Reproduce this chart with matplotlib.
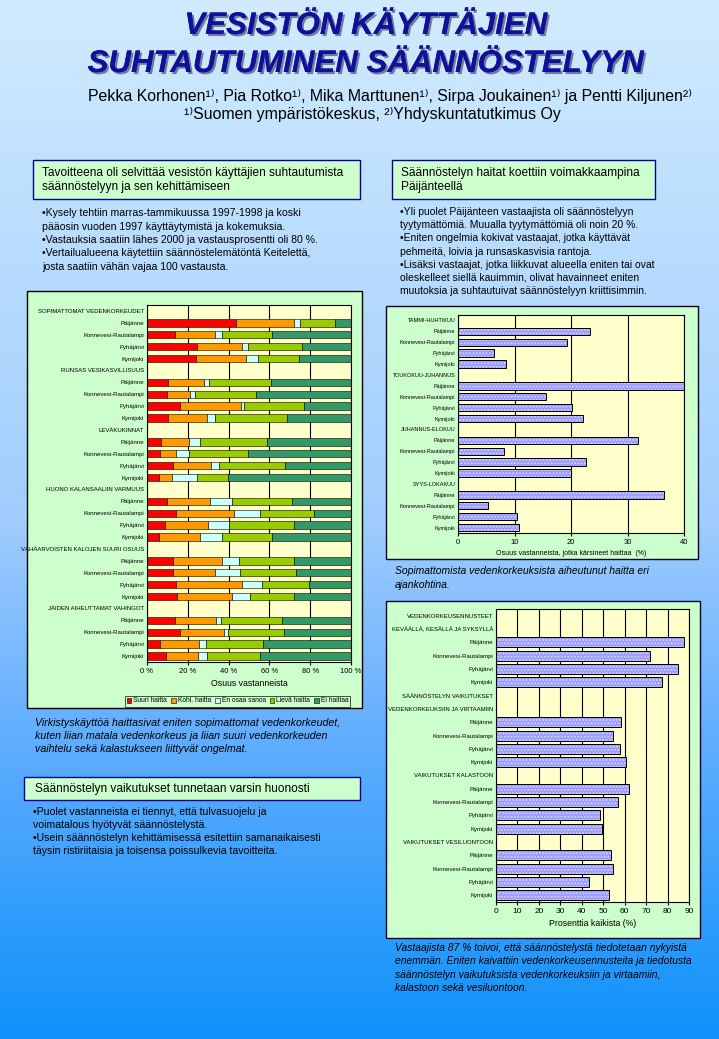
import numpy as np
import matplotlib
matplotlib.use('Agg')
import matplotlib.pyplot as plt
from matplotlib.patches import Rectangle
import matplotlib.patheffects as pe

plt.rcParams['font.family'] = ['Liberation Sans', 'DejaVu Sans']

W, H = 719, 1039

# --- data -------------------------------------------------------------
areas = ['Päijänne', 'Konnevesi-Rautalampi', 'Pyhäjärvi', 'Kymijoki']

# vasen kuva: haitat vastaajien mukaan (%)
haitta_ryhmat = ['SOPIMATTOMAT VEDENKORKEUDET', 'RUNSAS VESIKASVILLISUUS', 'LEVÄKUKINNAT',
                 'HUONO KALANSAALIIN VARMUUS', 'VÄHÄARVOISTEN KALOJEN SUURI OSUUS',
                 'JÄIDEN AIHEUTTAMAT VAHINGOT']
sarjat = ['Suuri haitta', 'Kohl. haitta', 'En osaa sanoa', 'Lievä haitta', 'Ei haittaa']
suuri = [43.5, 13.5, 24.4, 23.8, 10.1, 9.8, 16.0, 10.1, 6.7, 6.2, 12.5, 5.7,
         9.8, 14.0, 8.6, 5.7, 12.5, 12.5, 14.0, 14.5, 13.5, 16.0, 6.2, 9.1]
kohtal = [28.6, 19.6, 22.3, 24.9, 17.6, 11.5, 30.3, 19.5, 13.7, 7.8, 18.9, 6.4,
          21.3, 28.8, 21.5, 20.5, 24.1, 20.6, 32.7, 27.4, 20.1, 21.5, 19.5, 16.1]
eos = [3.0, 3.5, 3.0, 5.9, 2.9, 2.0, 1.4, 3.5, 5.8, 6.4, 4.1, 12.3,
       10.8, 12.7, 10.3, 10.4, 8.7, 12.7, 9.8, 8.8, 2.9, 2.4, 3.0, 4.4]
lieva = [17.1, 24.8, 26.4, 20.0, 30.3, 30.3, 29.3, 35.6, 32.8, 29.3, 32.3, 15.5,
         29.3, 26.4, 31.7, 24.8, 26.8, 27.3, 23.0, 21.4, 29.8, 27.4, 28.3, 25.9]
ei = [7.8, 38.6, 23.9, 25.4, 39.1, 46.4, 23.0, 31.3, 41.0, 50.3, 32.2, 60.1,
      28.8, 18.1, 27.9, 38.6, 27.9, 26.9, 20.5, 27.9, 33.7, 32.7, 43.0, 44.5]
sarja_varit = ['#ff0000', '#ff9900', '#ccffff', '#99cc00', '#339966']

# oikea ylä: haitta eri ajankohtina (%)
ajankohdat = ['TAMMI-HUHTIKUU', 'TOUKOKUU-JUHANNUS', 'JUHANNUS-ELOKUU', 'SYYS-LOKAKUU']
haitta_aika = [23.3, 19.3, 6.4, 8.5, 40.0, 15.5, 20.1, 22.1,
               31.8, 8.2, 22.6, 20.0, 36.5, 5.3, 10.4, 10.8]

# oikea ala: tiedotustarve (%)
tiedote_ryhmat = [['VEDENKORKEUSENNUSTEET', 'KEVÄÄLLÄ, KESÄLLÄ JA SYKSYLLÄ'],
                  ['SÄÄNNÖSTELYN VAIKUTUKSET', 'VEDENKORKEUKSIIN JA VIRTAAMIIN'],
                  ['VAIKUTUKSET KALASTOON'],
                  ['VAIKUTUKSET VESILUONTOON']]
tiedotus = [87.5, 72.0, 84.7, 77.6, 58.5, 54.5, 57.6, 60.8,
            61.8, 57.1, 48.3, 49.3, 53.8, 54.5, 43.6, 52.9]


def rows_for(groups):
    """palauttaa rivien nimet ja rivit joilla on palkki"""
    labels, pos = [], []
    for g in groups:
        heads = g if isinstance(g, list) else [g]
        labels += heads
        for a in areas:
            pos.append(len(labels))
            labels.append(a)
    return labels, pos


fig = plt.figure(figsize=(W / 100, H / 100), dpi=100)

# taustan liukuväri
bg = fig.add_axes([0, 0, 1, 1])
t = np.linspace(0, 1, 400)
stops = [0, 0.5, 0.7, 1.0]
r = np.interp(t, stops, [208, 160, 100, 15])
g = np.interp(t, stops, [235, 205, 175, 145])
b = np.interp(t, stops, [255, 253, 255, 250])
grad = np.stack([r, g, b], axis=1)[:, None, :] / 255.0
bg.imshow(grad, extent=[0, W, H, 0], aspect='auto')
bg.set_xlim(0, W)
bg.set_ylim(H, 0)
bg.axis('off')


def box(x0, y0, x1, y1, fc='#ccffcc', ec='#000099', lw=1.0):
    bg.add_patch(Rectangle((x0, y0), x1 - x0, y1 - y0, facecolor=fc, edgecolor=ec, lw=lw))


def lines(x, y, txt, dy, **kw):
    for i, s in enumerate(txt):
        bg.text(x, y + i * dy, s, va='center', ha='left', **kw)


# otsikko
for i, s in enumerate(['VESISTÖN KÄYTTÄJIEN', 'SUHTAUTUMINEN SÄÄNNÖSTELYYN']):
    bg.text(366, 26 + i * 38, s, ha='center', va='center', fontsize=22.5, fontweight='bold',
            fontstyle='italic', color='#10109a',
            path_effects=[pe.withSimplePatchShadow(offset=(1.5, -1.5), shadow_rgbFace='#333355', alpha=0.6),
                          pe.Normal()])
bg.text(390, 97, 'Pekka Korhonen¹⁾, Pia Rotko¹⁾, Mika Marttunen¹⁾, Sirpa Joukainen¹⁾ ja Pentti Kiljunen²⁾',
        ha='center', va='center', fontsize=11.4)
bg.text(372, 115, '¹⁾Suomen ympäristökeskus, ²⁾Yhdyskuntatutkimus Oy', ha='center', va='center', fontsize=11.4)

# tekstilaatikot
box(33, 160, 360, 199)
lines(42, 173, ['Tavoitteena oli selvittää vesistön käyttäjien suhtautumista',
                'säännöstelyyn ja sen kehittämiseen'], 14, fontsize=8.6)
lines(42, 213, ['•Kysely tehtiin marras-tammikuussa 1997-1998 ja koski',
                'pääosin vuoden 1997 käyttäytymistä ja kokemuksia.',
                '•Vastauksia saatiin lähes 2000 ja vastausprosentti oli 80 %.',
                '•Vertailualueena käytettiin säännöstelemätöntä Keitelettä,',
                'josta saatiin vähän vajaa 100 vastausta.'], 13.5, fontsize=7.6)

box(392, 160, 655, 199)
lines(401, 173, ['Säännöstelyn haitat koettiin voimakkaampina', 'Päijänteellä'], 14, fontsize=8.6)
lines(400, 212, ['•Yli puolet Päijänteen vastaajista oli säännöstelyyn',
                 'tyytymättömiä. Muualla tyytymättömiä oli noin 20 %.',
                 '•Eniten ongelmia kokivat vastaajat, jotka käyttävät',
                 'pehmeitä, loivia ja runsaskasvisia rantoja.',
                 '•Lisäksi vastaajat, jotka liikkuvat alueella eniten tai ovat',
                 'oleskelleet siellä kauimmin, olivat havainneet eniten',
                 'muutoksia ja suhtautuivat säännöstelyyn kriittisimmin.'], 13.2, fontsize=7.5)

# kaaviolaatikot
box(27, 291, 362, 708, ec='black')
box(386, 306, 698, 559, ec='#000033')
box(386, 601, 700, 938, ec='#000033')

lines(35, 723, ['Virkistyskäyttöä haittasivat eniten sopimattomat vedenkorkeudet,',
                'kuten liian matala vedenkorkeus ja liian suuri vedenkorkeuden',
                'vaihtelu sekä kalastukseen liittyvät ongelmat.'], 13, fontsize=7.7, fontstyle='italic')

box(24, 777, 360, 800)
lines(35, 789, ['Säännöstelyn vaikutukset tunnetaan varsin huonosti'], 0, fontsize=8.6)
lines(33, 812, ['•Puolet vastanneista ei tiennyt, että tulvasuojelu ja',
                'voimatalous hyötyvät säännöstelystä.',
                '•Usein säännöstelyn kehittämisessä esitettiin samanaikaisesti',
                'täysin ristiriitaisia ja toisensa poissulkevia tavoitteita.'], 13, fontsize=7.6)

lines(395, 571, ['Sopimattomista vedenkorkeuksista aiheutunut haitta eri',
                 'ajankohtina.'], 14, fontsize=7.5, fontstyle='italic')
lines(395, 948, ['Vastaajista 87 % toivoi, että säännöstelystä tiedotetaan nykyistä',
                 'enemmän. Eniten kaivattiin vedenkorkeusennusteita ja tiedotusta',
                 'säännöstelyn vaikutuksista vedenkorkeuksiin ja virtaamiin,',
                 'kalastoon sekä vesiluontoon.'], 13.3, fontsize=7.4, fontstyle='italic')


def px_axes(x0, y0, x1, y1):
    return fig.add_axes([x0 / W, 1 - y1 / H, (x1 - x0) / W, (y1 - y0) / H])


def style(ax, labels, xmax, xticks, xlab, lab_fs, tick_fs):
    ax.set_facecolor('#ffffcc')
    ax.set_ylim(len(labels) - 0.5, -0.5)
    ax.set_yticks(range(len(labels)))
    ax.set_yticklabels(labels, fontsize=lab_fs)
    ax.set_xlim(0, xmax)
    ax.set_xticks(xticks)
    ax.tick_params(axis='x', labelsize=tick_fs, length=2, pad=2)
    ax.tick_params(axis='y', length=0, pad=2)
    ax.set_xlabel(xlab, fontsize=tick_fs, labelpad=3)
    for xt in xticks:
        ax.axvline(xt, color='black', lw=0.8, zorder=1)
    for s in ax.spines.values():
        s.set_color('black')
        s.set_linewidth(0.8)


# vasen pinottu kaavio
ax1 = px_axes(147, 305, 351, 662)
labels1, ypos = rows_for(haitta_ryhmat)
left = np.zeros(len(ypos))
for name, vals, col in zip(sarjat, [suuri, kohtal, eos, lieva, ei], sarja_varit):
    ax1.barh(ypos, vals, left=left, height=0.62, color=col, edgecolor='black', lw=0.4, zorder=2, label=name)
    left += np.array(vals)
style(ax1, labels1, 100, range(0, 101, 20), 'Osuus vastanneista', 4.3, 5.5)
ax1.set_xticklabels([f'{v} %' for v in range(0, 101, 20)])
ax1.xaxis.label.set_size(6.3)
leg = ax1.legend(loc='center', bbox_to_anchor=((122 + 353) / 2 / W, 1 - 701 / H), bbox_transform=fig.transFigure,
                 ncol=5, fontsize=4.8, frameon=True, handlelength=0.7, handleheight=0.7, handletextpad=0.3,
                 columnspacing=0.6, borderpad=0.3, fancybox=False)
leg.get_frame().set_edgecolor('black')
leg.get_frame().set_facecolor('#ccffcc')
leg.get_frame().set_linewidth(0.6)


def hatched_bars(ax, ypos, vals, h):
    ax.barh(ypos, vals, height=h, color='#9999ff', edgecolor='#d6d6ff', hatch='.....', lw=0, zorder=2)
    ax.barh(ypos, vals, height=h, fill=False, edgecolor='black', lw=0.7, zorder=3)


# oikea ylä
ax2 = px_axes(458, 315, 684, 533)
labels2, ypos2 = rows_for(ajankohdat)
hatched_bars(ax2, ypos2, haitta_aika, 0.68)
style(ax2, labels2, 40, range(0, 41, 10), 'Osuus vastanneista, jotka kärsineet haittaa  (%)', 4.0, 5.5)
ax2.xaxis.label.set_size(5.0)

# oikea ala
ax3 = px_axes(496, 609, 689, 902)
labels3, ypos3 = rows_for(tiedote_ryhmat)
hatched_bars(ax3, ypos3, tiedotus, 0.75)
style(ax3, labels3, 90, range(0, 91, 10), 'Prosenttia kaikista (%)', 4.3, 6)
ax3.xaxis.label.set_size(6.3)

fig.savefig('out.png', dpi=100)
